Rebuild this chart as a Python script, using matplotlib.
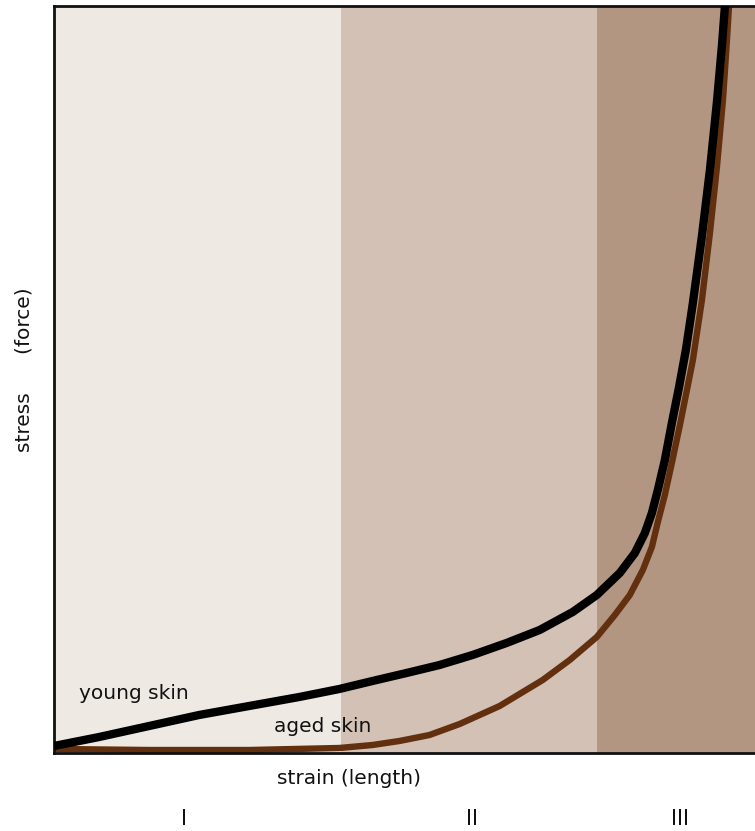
import matplotlib
matplotlib.use("Agg")
import matplotlib.pyplot as plt

# Data (strain, stress) in arbitrary units 0..100
young_strain = [0.0, 6.43, 20.71, 35.0, 40.71, 45.43, 50.29, 55.0, 59.71, 64.57, 69.29, 74.0, 77.43,
                80.71, 82.86, 84.29, 85.29, 86.14, 87.14, 88.14, 89.14, 90.14, 91.14, 92.43, 93.57,
                94.57, 95.29, 95.71]
young_stress = [0.94, 2.14, 5.09, 7.50, 8.57, 9.64, 10.71, 11.78, 13.12, 14.73, 16.47, 18.88, 21.15,
                24.10, 26.77, 29.45, 32.13, 35.21, 39.22, 44.18, 48.86, 53.95, 60.24, 69.21, 78.05,
                87.15, 94.78, 100.0]

aged_strain = [0.0, 13.57, 27.86, 40.71, 45.43, 49.29, 53.57, 57.86, 63.57, 69.71, 73.57, 77.43,
               80.0, 82.14, 84.0, 85.29, 86.14, 87.14, 88.14, 89.29, 90.29, 91.14, 92.43, 93.57,
               94.57, 95.43, 96.0, 96.29]
aged_stress = [0.54, 0.40, 0.40, 0.67, 1.07, 1.61, 2.41, 3.88, 6.29, 9.77, 12.45, 15.53,
               18.47, 21.15, 24.50, 27.58, 30.92, 34.54, 38.82, 43.91, 48.59, 52.61, 60.64, 69.61,
               78.45, 87.42, 95.45, 100.0]

region_edges = [0.0, 41.0, 77.4, 100.0]
region_labels = ["I", "II", "III"]
region_label_x = [18.6, 59.6, 89.3]
region_colors = ["#EEE9E3", "#D4C1B5", "#B39682"]

fig = plt.figure(figsize=(7.55, 8.31), dpi=100)
ax = fig.add_axes([54/755, 78/831, 1 - 54/755, (753-6)/831])
ax.set_xlim(0, 100)
ax.set_ylim(0, 100)

for i in range(3):
    ax.axvspan(region_edges[i], region_edges[i+1], color=region_colors[i], lw=0, zorder=0)

ax.plot(aged_strain, aged_stress, color="#63300F", lw=4.6, solid_capstyle="butt",
        solid_joinstyle="round", zorder=2)
ax.plot(young_strain, young_stress, color="#000000", lw=6.0, solid_capstyle="butt",
        solid_joinstyle="round", zorder=3)

for s in ["left", "bottom", "top"]:
    ax.spines[s].set_linewidth(2)
    ax.spines[s].set_color("#111111")
ax.spines["right"].set_visible(False)
ax.set_xticks([])
ax.set_yticks([])

font = "DejaVu Sans"
fs = 14.5
ax.text(3.6, 7.9, "young skin", fontsize=fs, family=font, ha="left", va="center", color="#111111")
ax.text(31.4, 3.5, "aged skin", fontsize=fs, family=font, ha="left", va="center", color="#111111")
ax.text(42.1, -3.35, "strain (length)", fontsize=fs, family=font, ha="center", va="center",
        color="#111111", clip_on=False)
fig.text(24/755, 1 - 370/831, "stress      (force)", fontsize=fs, family=font, rotation=90,
         ha="center", va="center", color="#111111")
for lbl, x in zip(region_labels, region_label_x):
    ax.text(x, -8.8, lbl, fontsize=15, family=font, ha="center", va="center",
            color="#111111", clip_on=False)

fig.savefig("out.png", dpi=100)
